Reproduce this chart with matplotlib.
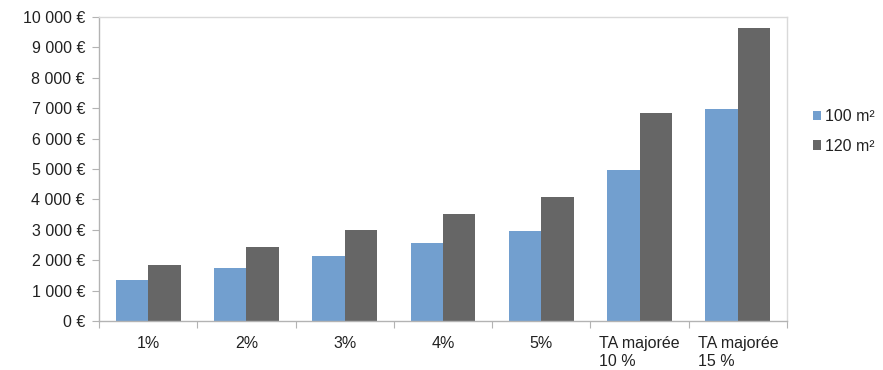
import numpy as np
import matplotlib
matplotlib.use('Agg')
import matplotlib.pyplot as plt
from matplotlib.ticker import FuncFormatter

plt.rcParams['font.family'] = ['Liberation Sans', 'DejaVu Sans']

categories = ['1%', '2%', '3%', '4%', '5%', 'TA majorée\n10 %', 'TA majorée\n15 %']
values_100 = [1360, 1740, 2150, 2570, 2960, 4960, 6980]
values_120 = [1850, 2420, 2990, 3530, 4070, 6850, 9640]
series_names = ['100 m²', '120 m²']
colors = ['#729fcf', '#666666']

fig = plt.figure(figsize=(8.83, 3.70), dpi=100)
ax = fig.add_axes([0.1121, 0.1324, 0.7792, 0.8216])

x = np.arange(len(categories))
w = 0.33
ax.bar(x - w / 2, values_100, w, color=colors[0], label=series_names[0])
ax.bar(x + w / 2, values_120, w, color=colors[1], label=series_names[1])

ax.set_xlim(-0.5, len(categories) - 0.5)
ax.set_ylim(0, 10000)
ax.set_yticks(np.arange(0, 10001, 1000))
ax.yaxis.set_major_formatter(FuncFormatter(lambda v, p: f'{int(v):,}'.replace(',', ' ') + ' €'))

# category ticks sit between groups, labels at the centre
ax.set_xticks(np.arange(-0.5, len(categories), 1.0))
ax.set_xticklabels([])
ax.set_xticks(x, minor=True)
ax.set_xticklabels(categories, minor=True, multialignment='left', linespacing=1.25)
ax.tick_params(axis='x', which='minor', length=0, pad=11)
ax.tick_params(axis='x', which='major', length=5, color='#b3b3b3')
ax.tick_params(axis='y', length=5, color='#b3b3b3', pad=5)
ax.tick_params(which='both', labelsize=11.5, labelcolor='#222222')
for lbl in ax.get_xticklabels(minor=True):
    lbl.set_verticalalignment('top')

for side in ['top', 'right']:
    ax.spines[side].set_color('#d9d9d9')
for side in ['left', 'bottom']:
    ax.spines[side].set_color('#b3b3b3')
for s in ax.spines.values():
    s.set_linewidth(1)

leg = fig.legend(loc='center left', bbox_to_anchor=(0.904, 0.645), frameon=False,
                 fontsize=11.5, handlelength=0.55, handleheight=0.55, handletextpad=0.2,
                 labelspacing=0.9)
for t in leg.get_texts():
    t.set_color('#222222')

fig.savefig('out.png', dpi=100)
